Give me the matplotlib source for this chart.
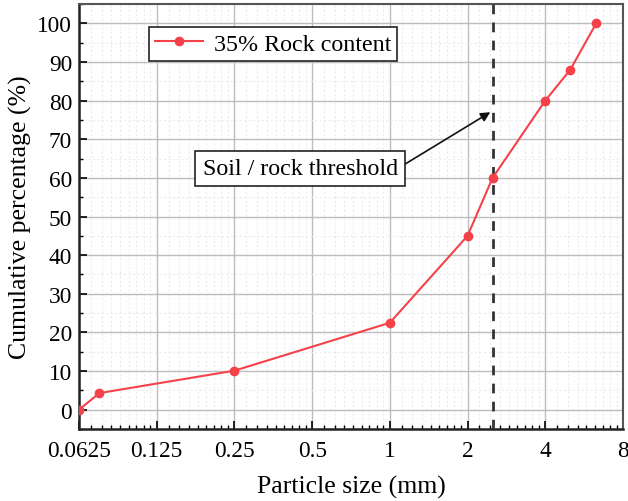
import numpy as np
import matplotlib
matplotlib.use("Agg")
import matplotlib.pyplot as plt
from matplotlib.ticker import FixedLocator, LogLocator, MultipleLocator, NullFormatter

plt.rcParams['font.family'] = ['Liberation Serif', 'DejaVu Serif']

particle_size = [0.0625, 0.075, 0.25, 1, 2, 2.5, 4, 5, 6.3]
cumulative = [0, 4.3, 10.1, 22.5, 45, 60, 80, 88, 100]
series_label = "35% Rock content"
threshold = 2.5
x_ticks = [0.0625, 0.125, 0.25, 0.5, 1, 2, 4, 8]
x_tick_labels = ["0.0625", "0.125", "0.25", "0.5", "1", "2", "4", "8"]
y_ticks = list(range(0, 101, 10))

fig = plt.figure(figsize=(6.28, 5.02), dpi=100)
ax = fig.add_axes([0.1258, 0.1434, 0.8662, 0.8466])

red = '#f5424a'
ax.plot(particle_size, cumulative, color=red, lw=1.5, marker='o', ms=6,
        label=series_label, zorder=5)
ax.axvline(threshold, color='#333333', lw=2, ls=(0, (3.5, 3)), zorder=4)

ax.set_xscale('log', base=2)
ax.set_xlim(0.0625, 8)
ax.set_ylim(-5, 105)
ax.xaxis.set_major_locator(FixedLocator(x_ticks))
ax.set_xticklabels(x_tick_labels)
ax.xaxis.set_minor_locator(LogLocator(base=2, subs=[1 + k / 9 for k in range(1, 9)], numticks=50))
ax.xaxis.set_minor_formatter(NullFormatter())
ax.set_yticks(y_ticks)
ax.yaxis.set_minor_locator(MultipleLocator(5))

ax.tick_params(which='major', direction='in', length=6, width=1.2, labelsize=16.8, pad=5)
ax.tick_params(axis='x', which='major', pad=8)
ax.tick_params(which='minor', direction='in', length=3, width=1.0)

ax.grid(which='major', color='#bdbdbd', lw=1.0, zorder=0)
ax.grid(which='minor', color='#ececec', lw=0.8, ls=(0, (2, 2)), zorder=0)
ax.set_axisbelow(True)

for s in ['left', 'bottom']:
    ax.spines[s].set_linewidth(1.8)
    ax.spines[s].set_color('#222222')
for s in ['top', 'right']:
    ax.spines[s].set_linewidth(1.5)
    ax.spines[s].set_color('#555555')

ax.set_xlabel("Particle size (mm)", fontsize=18.5, labelpad=10)
ax.set_ylabel("Cumulative percentage (%)", fontsize=18.5, labelpad=4)

leg = ax.legend(loc='upper left', bbox_to_anchor=(0.1287, 0.946), fontsize=17.3,
                frameon=True, fancybox=False, edgecolor='#222222', framealpha=1,
                handlelength=2.0, borderpad=0.25, handletextpad=0.45, borderaxespad=0)
leg.get_frame().set_linewidth(1.2)

ax.annotate("Soil / rock threshold", xy=(2.45, 77), xytext=(0.449, 62.4),
            ha='center', va='center', fontsize=17.3,
            bbox=dict(boxstyle='square,pad=0.3', fc='white', ec='#222222', lw=1.2),
            arrowprops=dict(arrowstyle='-|>', color='#111111', lw=1.2,
                            relpos=(1, 0.5), mutation_scale=14, shrinkA=0, shrinkB=0),
            zorder=6)

fig.savefig("out.png", dpi=100)
